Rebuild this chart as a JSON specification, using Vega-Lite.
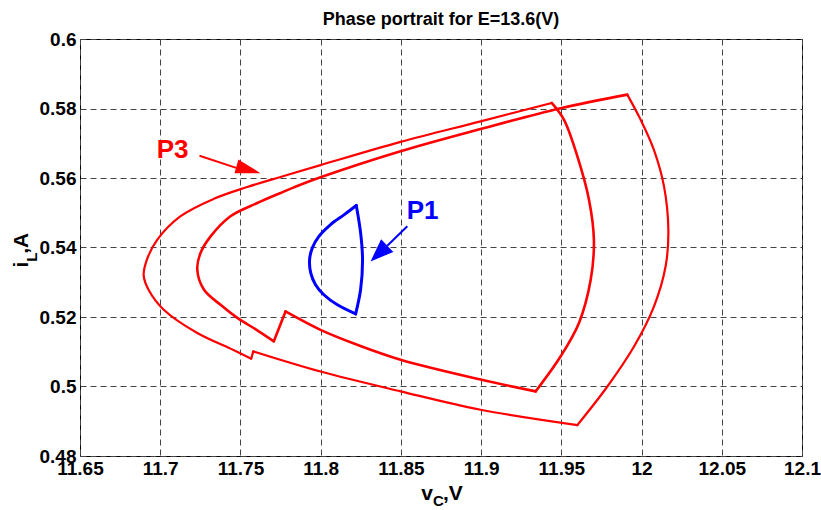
{
  "$schema": "https://vega.github.io/schema/vega-lite/v6.json",
  "width": 722,
  "height": 417,
  "autosize": {"type": "none"},
  "padding": {"left": 80, "top": 39, "right": 19, "bottom": 54},
  "background": "white",
  "title": {
    "text": "Phase portrait for E=13.6(V)",
    "anchor": "middle",
    "baseline": "alphabetic",
    "offset": 12,
    "dy": 25,
    "font": "'Liberation Sans Narrow', 'Liberation Sans', sans-serif",
    "fontSize": 18,
    "fontWeight": "bold",
    "color": "#000"
  },
  "config": {
    "view": {"stroke": "#000", "strokeWidth": 1},
    "axis": {
      "grid": true,
      "gridColor": "#444444",
      "gridDash": [6, 4],
      "gridWidth": 1,
      "gridOpacity": 1,
      "domain": false,
      "ticks": false,
      "labelFont": "'Liberation Sans Narrow', 'Liberation Sans', sans-serif",
      "labelFontWeight": "bold",
      "labelFontSize": 19,
      "labelColor": "#000",
      "labelFlush": false,
      "labelOverlap": false,
      "title": null
    },
    "text": {"font": "'Liberation Sans Narrow', 'Liberation Sans', sans-serif", "fontWeight": "bold", "color": "#000"}
  },
  "datasets": {
    "curves": [
      {"s": "A1", "c": "A", "i": 1, "v": 11.9911, "a": 0.5840},
      {"s": "A1", "c": "A", "i": 2, "v": 11.9994, "a": 0.5768},
      {"s": "A1", "c": "A", "i": 3, "v": 12.0077, "a": 0.5681},
      {"s": "A1", "c": "A", "i": 4, "v": 12.0140, "a": 0.5576},
      {"s": "A1", "c": "A", "i": 5, "v": 12.0167, "a": 0.5451},
      {"s": "A1", "c": "A", "i": 6, "v": 12.0150, "a": 0.5346},
      {"s": "A1", "c": "A", "i": 7, "v": 12.0077, "a": 0.5230},
      {"s": "A1", "c": "A", "i": 8, "v": 11.9953, "a": 0.5115},
      {"s": "A1", "c": "A", "i": 9, "v": 11.9787, "a": 0.5000},
      {"s": "A1", "c": "A", "i": 10, "v": 11.9600, "a": 0.4889},
      {"s": "A2", "c": "A", "i": 10, "v": 11.9600, "a": 0.4889},
      {"s": "A2", "c": "A", "i": 11, "v": 11.8997, "a": 0.4933},
      {"s": "A2", "c": "A", "i": 12, "v": 11.8498, "a": 0.4986},
      {"s": "A2", "c": "A", "i": 13, "v": 11.7999, "a": 0.5043},
      {"s": "A2", "c": "A", "i": 14, "v": 11.7580, "a": 0.5101},
      {"s": "A3", "c": "A", "i": 14, "v": 11.7580, "a": 0.5101},
      {"s": "A3", "c": "A", "i": 15, "v": 11.7567, "a": 0.5080},
      {"s": "A4", "c": "A", "i": 15, "v": 11.7567, "a": 0.5080},
      {"s": "A4", "c": "A", "i": 16, "v": 11.7438, "a": 0.5109},
      {"s": "A4", "c": "A", "i": 17, "v": 11.7231, "a": 0.5154},
      {"s": "A4", "c": "A", "i": 18, "v": 11.7022, "a": 0.5221},
      {"s": "A4", "c": "A", "i": 19, "v": 11.6929, "a": 0.5277},
      {"s": "A4", "c": "A", "i": 20, "v": 11.6897, "a": 0.5319},
      {"s": "A4", "c": "A", "i": 21, "v": 11.6917, "a": 0.5365},
      {"s": "A4", "c": "A", "i": 22, "v": 11.6981, "a": 0.5422},
      {"s": "A4", "c": "A", "i": 23, "v": 11.7127, "a": 0.5490},
      {"s": "A4", "c": "A", "i": 24, "v": 11.7334, "a": 0.5540},
      {"s": "A4", "c": "A", "i": 25, "v": 11.7542, "a": 0.5574},
      {"s": "A4", "c": "A", "i": 26, "v": 11.7750, "a": 0.5603},
      {"s": "A4", "c": "A", "i": 27, "v": 11.7999, "a": 0.5637},
      {"s": "A4", "c": "A", "i": 28, "v": 11.8498, "a": 0.5704},
      {"s": "A4", "c": "A", "i": 29, "v": 11.8997, "a": 0.5763},
      {"s": "A4", "c": "A", "i": 30, "v": 11.9440, "a": 0.5816},
      {"s": "B1", "c": "B", "i": 1, "v": 11.9440, "a": 0.5816},
      {"s": "B1", "c": "B", "i": 2, "v": 11.9516, "a": 0.5768},
      {"s": "B1", "c": "B", "i": 3, "v": 11.9600, "a": 0.5662},
      {"s": "B1", "c": "B", "i": 4, "v": 11.9672, "a": 0.5538},
      {"s": "B1", "c": "B", "i": 5, "v": 11.9703, "a": 0.5422},
      {"s": "B1", "c": "B", "i": 6, "v": 11.9683, "a": 0.5307},
      {"s": "B1", "c": "B", "i": 7, "v": 11.9610, "a": 0.5183},
      {"s": "B1", "c": "B", "i": 8, "v": 11.9496, "a": 0.5087},
      {"s": "B1", "c": "B", "i": 9, "v": 11.9340, "a": 0.4986},
      {"s": "B2", "c": "B", "i": 9, "v": 11.9340, "a": 0.4986},
      {"s": "B2", "c": "B", "i": 10, "v": 11.8997, "a": 0.5020},
      {"s": "B2", "c": "B", "i": 11, "v": 11.8498, "a": 0.5077},
      {"s": "B2", "c": "B", "i": 12, "v": 11.8228, "a": 0.5120},
      {"s": "B2", "c": "B", "i": 13, "v": 11.7999, "a": 0.5163},
      {"s": "B2", "c": "B", "i": 14, "v": 11.7781, "a": 0.5216},
      {"s": "B3", "c": "B", "i": 14, "v": 11.7781, "a": 0.5216},
      {"s": "B3", "c": "B", "i": 15, "v": 11.7708, "a": 0.5130},
      {"s": "B4", "c": "B", "i": 15, "v": 11.7708, "a": 0.5130},
      {"s": "B4", "c": "B", "i": 16, "v": 11.7600, "a": 0.5163},
      {"s": "B4", "c": "B", "i": 17, "v": 11.7476, "a": 0.5199},
      {"s": "B4", "c": "B", "i": 18, "v": 11.7376, "a": 0.5235},
      {"s": "B4", "c": "B", "i": 19, "v": 11.7272, "a": 0.5279},
      {"s": "B4", "c": "B", "i": 20, "v": 11.7231, "a": 0.5336},
      {"s": "B4", "c": "B", "i": 21, "v": 11.7251, "a": 0.5384},
      {"s": "B4", "c": "B", "i": 22, "v": 11.7314, "a": 0.5432},
      {"s": "B4", "c": "B", "i": 23, "v": 11.7438, "a": 0.5490},
      {"s": "B4", "c": "B", "i": 24, "v": 11.7605, "a": 0.5528},
      {"s": "B4", "c": "B", "i": 25, "v": 11.7750, "a": 0.5557},
      {"s": "B4", "c": "B", "i": 26, "v": 11.7833, "a": 0.5573},
      {"s": "B4", "c": "B", "i": 27, "v": 11.7999, "a": 0.5602},
      {"s": "B4", "c": "B", "i": 28, "v": 11.8498, "a": 0.5677},
      {"s": "B4", "c": "B", "i": 29, "v": 11.8997, "a": 0.5741},
      {"s": "B4", "c": "B", "i": 30, "v": 11.9496, "a": 0.5801},
      {"s": "B4", "c": "B", "i": 31, "v": 11.9911, "a": 0.5840},
      {"s": "P1a", "c": "P1", "i": 1, "v": 11.8222, "a": 0.5521},
      {"s": "P1a", "c": "P1", "i": 2, "v": 11.8145, "a": 0.5494},
      {"s": "P1a", "c": "P1", "i": 3, "v": 11.8062, "a": 0.5466},
      {"s": "P1a", "c": "P1", "i": 4, "v": 11.7989, "a": 0.5432},
      {"s": "P1a", "c": "P1", "i": 5, "v": 11.7948, "a": 0.5399},
      {"s": "P1a", "c": "P1", "i": 6, "v": 11.7931, "a": 0.5365},
      {"s": "P1a", "c": "P1", "i": 7, "v": 11.7938, "a": 0.5327},
      {"s": "P1a", "c": "P1", "i": 8, "v": 11.7968, "a": 0.5293},
      {"s": "P1a", "c": "P1", "i": 9, "v": 11.8020, "a": 0.5264},
      {"s": "P1a", "c": "P1", "i": 10, "v": 11.8104, "a": 0.5235},
      {"s": "P1a", "c": "P1", "i": 11, "v": 11.8218, "a": 0.5209},
      {"s": "P1b", "c": "P1", "i": 11, "v": 11.8218, "a": 0.5209},
      {"s": "P1b", "c": "P1", "i": 12, "v": 11.8249, "a": 0.5279},
      {"s": "P1b", "c": "P1", "i": 13, "v": 11.8261, "a": 0.5365},
      {"s": "P1b", "c": "P1", "i": 14, "v": 11.8249, "a": 0.5442},
      {"s": "P1b", "c": "P1", "i": 15, "v": 11.8222, "a": 0.5521}
    ],
    "arrows": [
      {"label": "P3", "x0": 11.7245, "y0": 0.5664, "x1": 11.7474, "y1": 0.5629, "tx": 11.7625, "ty": 0.5614, "lx": 11.7077, "ly": 0.5681},
      {"label": "P1", "x0": 11.8540, "y0": 0.5461, "x1": 11.8415, "y1": 0.5405, "tx": 11.8311, "ty": 0.5360, "lx": 11.8635, "ly": 0.5506}
    ]
  },
  "layer": [
    {
      "data": {"name": "curves"},
      "mark": {"type": "line", "interpolate": "catmull-rom", "strokeCap": "round", "strokeJoin": "round"},
      "encoding": {
        "x": {"field": "v", "type": "quantitative", "scale": {"domain": [11.65, 12.1], "nice": false, "zero": false},
              "axis": {"values": [11.65, 11.7, 11.75, 11.8, 11.85, 11.9, 11.95, 12, 12.05, 12.1], "format": "~g", "labelPadding": 3}},
        "y": {"field": "a", "type": "quantitative", "scale": {"domain": [0.48, 0.6], "nice": false, "zero": false},
              "axis": {"values": [0.48, 0.5, 0.52, 0.54, 0.56, 0.58, 0.6], "format": "~g", "labelPadding": 4, "labelBaseline": "middle"}},
        "detail": {"field": "s"},
        "order": {"field": "i", "type": "quantitative"},
        "color": {"field": "c", "type": "nominal", "scale": {"domain": ["A", "B", "P1"], "range": ["#ff0000", "#ff0000", "#0000ff"]}, "legend": null},
        "strokeWidth": {"field": "c", "type": "nominal", "scale": {"domain": ["A", "B", "P1"], "range": [2.2, 3.0, 3.5]}, "legend": null}
      }
    },
    {
      "data": {"name": "arrows"},
      "mark": {"type": "rule", "strokeWidth": 2},
      "encoding": {
        "x": {"field": "x0", "type": "quantitative"},
        "y": {"field": "y0", "type": "quantitative"},
        "x2": {"field": "x1"},
        "y2": {"field": "y1"},
        "color": {"field": "label", "type": "nominal", "scale": {"domain": ["P3", "P1"], "range": ["#ff0000", "#0000ff"]}, "legend": null}
      }
    },
    {
      "data": {"name": "arrows"},
      "transform": [{"filter": "datum.label === 'P3'"}],
      "mark": {"type": "point", "shape": "M0,0L-2,-0.57L-2,0.57Z", "size": 625, "angle": 15.8, "filled": true, "opacity": 1, "color": "#ff0000", "strokeWidth": 0},
      "encoding": {
        "x": {"field": "tx", "type": "quantitative"},
        "y": {"field": "ty", "type": "quantitative"}
      }
    },
    {
      "data": {"name": "arrows"},
      "transform": [{"filter": "datum.label === 'P1'"}],
      "mark": {"type": "point", "shape": "M0,0L-2,-0.77L-2,0.77Z", "size": 529, "angle": 136.4, "filled": true, "opacity": 1, "color": "#0000ff", "strokeWidth": 0},
      "encoding": {
        "x": {"field": "tx", "type": "quantitative"},
        "y": {"field": "ty", "type": "quantitative"}
      }
    },
    {
      "data": {"name": "arrows"},
      "mark": {"type": "text", "font": "'Liberation Sans', sans-serif", "fontWeight": "bold", "fontSize": 26, "align": "center", "baseline": "middle"},
      "encoding": {
        "x": {"field": "lx", "type": "quantitative"},
        "y": {"field": "ly", "type": "quantitative"},
        "text": {"field": "label"},
        "color": {"field": "label", "type": "nominal", "scale": {"domain": ["P3", "P1"], "range": ["#ff0000", "#0000ff"]}, "legend": null}
      }
    },
    {
      "data": {"values": [{}]},
      "mark": {"type": "text", "text": "v", "fontSize": 21, "align": "right", "baseline": "alphabetic", "dy": 44},
      "encoding": {"x": {"datum": 11.87, "type": "quantitative"}, "y": {"datum": 0.48, "type": "quantitative"}}
    },
    {
      "data": {"values": [{}]},
      "mark": {"type": "text", "text": "C", "fontSize": 15, "align": "left", "baseline": "alphabetic", "dy": 50},
      "encoding": {"x": {"datum": 11.87, "type": "quantitative"}, "y": {"datum": 0.48, "type": "quantitative"}}
    },
    {
      "data": {"values": [{}]},
      "mark": {"type": "text", "text": ",V", "fontSize": 21, "align": "left", "baseline": "alphabetic", "dx": 10, "dy": 44},
      "encoding": {"x": {"datum": 11.87, "type": "quantitative"}, "y": {"datum": 0.48, "type": "quantitative"}}
    },
    {
      "data": {"values": [{}]},
      "mark": {"type": "text", "text": "i", "fontSize": 21, "angle": 270, "align": "right", "baseline": "alphabetic", "dy": -52},
      "encoding": {"x": {"datum": 11.65, "type": "quantitative"}, "y": {"datum": 0.5359, "type": "quantitative"}}
    },
    {
      "data": {"values": [{}]},
      "mark": {"type": "text", "text": "L", "fontSize": 15, "angle": 270, "align": "left", "baseline": "alphabetic", "dy": -43},
      "encoding": {"x": {"datum": 11.65, "type": "quantitative"}, "y": {"datum": 0.5359, "type": "quantitative"}}
    },
    {
      "data": {"values": [{}]},
      "mark": {"type": "text", "text": ",A", "fontSize": 21, "angle": 270, "align": "left", "baseline": "alphabetic", "dx": 8, "dy": -52},
      "encoding": {"x": {"datum": 11.65, "type": "quantitative"}, "y": {"datum": 0.5359, "type": "quantitative"}}
    }
  ]
}
